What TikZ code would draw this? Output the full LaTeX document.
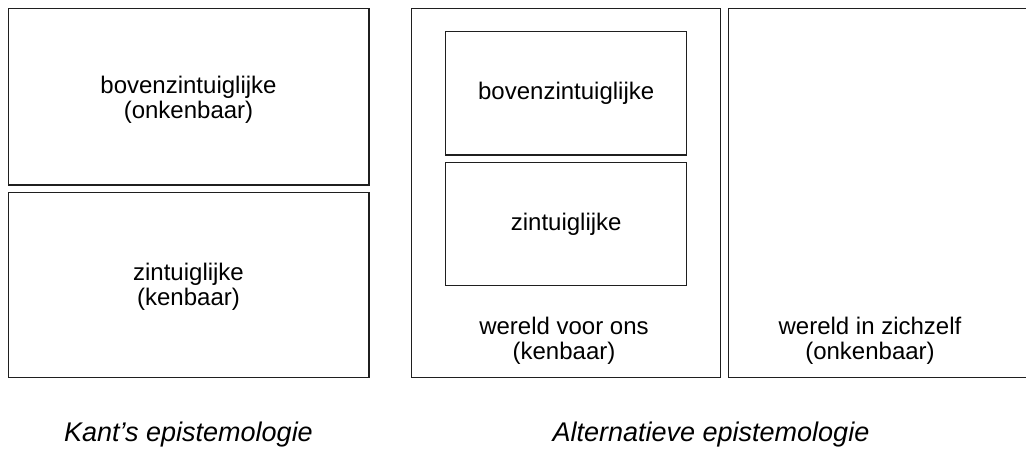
\documentclass[tikz,border=0pt]{standalone}
\usepackage{fontspec}
\setmainfont{Liberation Sans}
\begin{document}
\begin{tikzpicture}[x=1pt,y=-1pt,
  box/.style={draw=black!88, line width=1.3pt, rectangle, inner sep=0pt},
  lbl/.style={font=\fontsize{24}{25}\selectfont, align=center, inner sep=0pt},
  captxt/.style={font=\fontsize{27}{30}\selectfont\itshape, inner sep=0pt, anchor=base}]
\useasboundingbox (0,0) rectangle (1026,450);
\clip (0,0) rectangle (1026,450);
% Kant
\node[box, minimum width=360.7pt, minimum height=176.7pt] (kboven) at (188.65,96.65) {};
\node[box, minimum width=360.7pt, minimum height=185pt] (kzin) at (188.65,285.2) {};
\node[lbl] (kbovent) at (188.5,100) {bovenzintuiglijke\\(onkenbaar)};
\node[lbl] (kzint) at (188.5,286.5) {zintuiglijke\\(kenbaar)};
% Alternatief
\node[box, minimum width=309pt, minimum height=369.2pt] (wvo) at (566.2,192.9) {};
\node[box, lbl, minimum width=241pt, minimum height=123.3pt] (aboven) at (566.2,93.35) {bovenzintuiglijke};
\node[box, lbl, minimum width=241pt, minimum height=123pt] (azin) at (566.2,223.8) {zintuiglijke};
\node[lbl] (wvot) at (564,340.7) {wereld voor ons\\(kenbaar)};
\node[box, minimum width=311.7pt, minimum height=369.2pt] (wiz) at (884.15,192.9) {};
\node[lbl] (wizt) at (870,340.7) {wereld in zichzelf\\(onkenbaar)};
% captions
\node[captxt] (capk) at (188.5,441) {Kant’s epistemologie};
\node[captxt] (capa) at (711,441) {Alternatieve epistemologie};
\end{tikzpicture}
\end{document}
